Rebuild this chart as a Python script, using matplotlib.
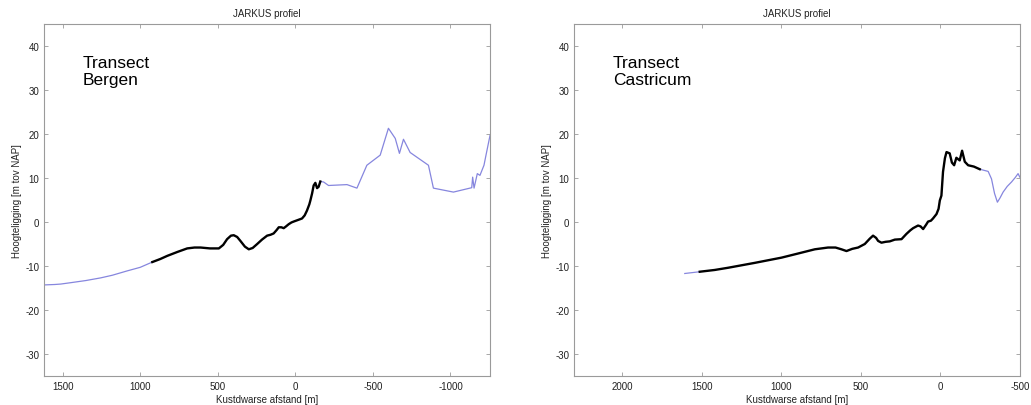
# JARKUS cross-shore profiles for two transects (Bergen, Castricum)
import matplotlib.pyplot as plt

plt.rcParams['font.family'] = ['Liberation Sans', 'DejaVu Sans']
plt.rcParams['axes.unicode_minus'] = False

# Bergen: seaward part (blue), measured part (black), landward part (blue)
bergen_sea_x = [1620, 1550, 1512, 1450, 1350, 1255, 1180, 1083, 1000, 922]
bergen_sea_z = [-14.3, -14.2, -14.1, -13.8, -13.3, -12.7, -12.1, -11.1,
                -10.3, -9.1]
bergen_mid_x = [922, 870, 826, 760, 697, 650, 611, 550, 493, 465, 440, 415,
                397, 375, 354, 325, 300, 275, 246, 215, 182, 160, 140, 120,
                107, 90, 75, 60, 43, 25, 11, -20, -43, -60, -75, -90, -97,
                -108, -118, -129, -140, -150, -161]
bergen_mid_z = [-9.1, -8.4, -7.7, -6.8, -6.0, -5.8, -5.8, -6.0, -6.0, -5.2,
                -3.9, -3.1, -3.0, -3.4, -4.3, -5.6, -6.2, -5.9, -5.0, -4.0,
                -3.1, -2.9, -2.6, -1.8, -1.2, -1.2, -1.4, -1.0, -0.5, -0.1,
                0.1, 0.5, 0.8, 1.5, 2.6, 4.0, 4.9, 6.5, 8.3, 8.9, 7.7, 8.0,
                9.2]
bergen_land_x = [-161, -182, -214, -333, -397, -461, -547, -600, -644, -671,
                 -697, -740, -858, -890, -1019, -1137, -1143, -1152, -1173,
                 -1190, -1216, -1229, -1255]
bergen_land_z = [9.2, 9.1, 8.3, 8.5, 7.7, 12.9, 15.2, 21.3, 19.0, 15.6, 18.8,
                 15.8, 12.9, 7.7, 6.8, 7.8, 10.2, 7.7, 11.0, 10.6, 12.9, 15.2,
                 19.7]

# Castricum
castricum_sea_x = [1608, 1514]
castricum_sea_z = [-11.7, -11.3]
castricum_mid_x = [1514, 1420, 1336, 1170, 1000, 900, 790, 707, 660, 623,
                   591, 555, 518, 476, 445, 424, 405, 392, 371, 345, 319, 287,
                   245, 214, 190, 172, 141, 125, 109, 90, 78, 60, 47, 25, 12,
                   4, -6, -16, -28, -38, -58, -72, -86, -100, -121, -136,
                   -153, -174, -210, -247]
castricum_mid_z = [-11.3, -10.9, -10.4, -9.3, -8.1, -7.2, -6.2, -5.8, -5.8,
                   -6.2, -6.6, -6.1, -5.8, -5.0, -3.8, -3.1, -3.6, -4.3, -4.7,
                   -4.5, -4.4, -4.0, -3.9, -2.7, -1.9, -1.4, -0.8, -1.0, -1.6,
                   -0.6, 0.1, 0.3, 0.8, 1.8, 3.0, 4.9, 6.0, 11.4, 14.5, 15.9,
                   15.6, 13.5, 12.9, 14.6, 14.0, 16.2, 13.7, 12.9, 12.6, 12.0]
castricum_land_x = [-247, -300, -321, -340, -358, -375, -394, -420, -447,
                    -470, -488, -499]
castricum_land_z = [12.0, 11.5, 9.8, 6.5, 4.5, 5.5, 6.8, 8.1, 9.1, 10.1,
                    11.0, 10.2]

yticks = [-30, -20, -10, 0, 10, 20, 30, 40]

panels = [
    dict(name="Transect\nBergen", xlim=(1620, -1255),
         xticks=[1500, 1000, 500, 0, -500, -1000], left=0.0427,
         seg=[(bergen_sea_x, bergen_sea_z), (bergen_mid_x, bergen_mid_z),
              (bergen_land_x, bergen_land_z)]),
    dict(name="Transect\nCastricum", xlim=(2305, -500),
         xticks=[2000, 1500, 1000, 500, 0, -500], left=0.5567,
         seg=[(castricum_sea_x, castricum_sea_z),
              (castricum_mid_x, castricum_mid_z),
              (castricum_land_x, castricum_land_z)]),
]

blue = '#8686de'
frame = '#9a9a9a'

fig = plt.figure(figsize=(10.31, 4.06), dpi=100)

for p in panels:
    ax = fig.add_axes([p['left'], 0.0714, 0.4326, 0.867])
    (sx, sz), (mx, mz), (lx, lz) = p['seg']
    ax.plot(sx, sz, color=blue, lw=0.9)
    ax.plot(lx, lz, color=blue, lw=0.9)
    ax.plot(mx, mz, color='black', lw=1.7)

    ax.set_xlim(*p['xlim'])
    ax.set_ylim(-35, 45)
    ax.set_xticks(p['xticks'])
    ax.set_yticks(yticks)
    ax.tick_params(direction='in', length=3, width=0.6, color=frame,
                   labelsize=7, labelcolor='#222222', top=True, right=True)
    for s in ax.spines.values():
        s.set_color(frame)
        s.set_linewidth(0.8)

    ax.set_title("JARKUS profiel", fontsize=7, color='#222222', pad=6)
    ax.set_xlabel("Kustdwarse afstand [m]", fontsize=7, color='#222222',
                  labelpad=2)
    ax.set_ylabel("Hoogteligging [m tov NAP]", fontsize=7, color='#222222',
                  labelpad=2)

    ax.text(0.087, 0.912, p['name'], transform=ax.transAxes, fontsize=12.5,
            va='top', ha='left', color='black')

fig.savefig('out.png', dpi=100)
